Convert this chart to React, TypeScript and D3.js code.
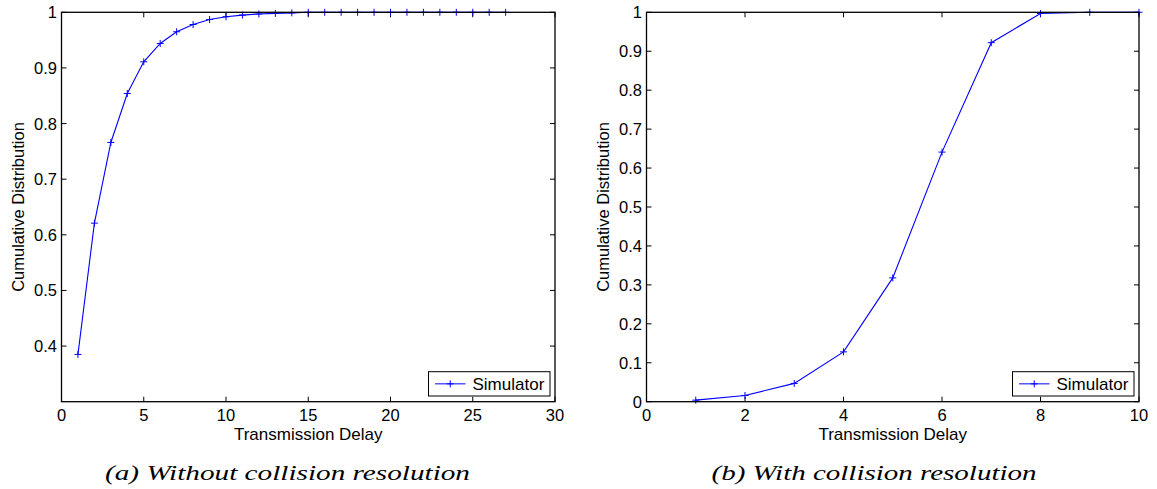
import React from "react";
import * as d3 from "d3";

// ---- Data ----
const leftDelays = [1,2,3,4,5,6,7,8,9,10,11,12,13,14,15,16,17,18,19,20,21,22,23,24,25,26,27];
const leftCdf = [0.385,0.621,0.766,0.854,0.911,0.944,0.965,0.978,0.987,0.992,0.995,0.997,0.998,0.999,1,1,1,1,1,1,1,1,1,1,1,1,1];
const rightDelays = [1,2,3,4,5,6,7,8,9,10];
const rightCdf = [0.004,0.016,0.047,0.128,0.318,0.641,0.922,0.997,1,1];

const leftXTicks = [0,5,10,15,20,25,30];
const leftYTicks = [0.4,0.5,0.6,0.7,0.8,0.9,1];
const rightXTicks = [0,2,4,6,8,10];
const rightYTicks = [0,0.1,0.2,0.3,0.4,0.5,0.6,0.7,0.8,0.9,1];

const seriesName = "Simulator";
const xLabel = "Transmission Delay";
const yLabel = "Cumulative Distribution";
const captionA = "(a) Without collision resolution";
const captionB = "(b) With collision resolution";

const SANS = "'Liberation Sans', Arial, Helvetica, sans-serif";
const SERIF = "'Liberation Serif', 'Times New Roman', serif";
const BLUE = "#0000ff";

type PanelProps = {
  x0: number; x1: number; y0: number; y1: number;
  xDomain: [number, number]; yDomain: [number, number];
  xTicks: number[]; yTicks: number[];
  xs: number[]; ys: number[];
  yLabelX: number;
  caption: string; captionX: number; captionLen: number;
};

function fmt(v: number) {
  return String(+v.toFixed(2));
}

function Panel(p: PanelProps) {
  const x = d3.scaleLinear().domain(p.xDomain).range([p.x0, p.x1]);
  const y = d3.scaleLinear().domain(p.yDomain).range([p.y1, p.y0]);
  const pts = p.xs.map((v, i) => [v, p.ys[i]] as [number, number]);
  const line = d3.line<[number, number]>().x(d => x(d[0])).y(d => y(d[1]))(pts) || "";
  const tl = 5;
  const m = 3.5;
  const legW = 121.5, legH = 24.3;
  const legX = p.x1 - 5 - legW, legY = p.y1 - 5.7 - legH;
  const cy = (p.y0 + p.y1) / 2;
  const cx = (p.x0 + p.x1) / 2;
  return (
    <g>
      {/* ticks */}
      {p.xTicks.map(t => (
        <g key={"xt" + t}>
          <line x1={x(t)} x2={x(t)} y1={p.y1} y2={p.y1 - tl} stroke="#000" strokeWidth={1} />
          <line x1={x(t)} x2={x(t)} y1={p.y0} y2={p.y0 + tl} stroke="#000" strokeWidth={1} />
          <text x={x(t)} y={420.5} fontSize={16.5} fontFamily={SANS} textAnchor="middle" fill="#000">{fmt(t)}</text>
        </g>
      ))}
      {p.yTicks.map(t => (
        <g key={"yt" + t}>
          <line x1={p.x0} x2={p.x0 + tl} y1={y(t)} y2={y(t)} stroke="#000" strokeWidth={1} />
          <line x1={p.x1} x2={p.x1 - tl} y1={y(t)} y2={y(t)} stroke="#000" strokeWidth={1} />
          <text x={p.x0 - 4.5} y={y(t) + 6} fontSize={16.5} fontFamily={SANS} textAnchor="end" fill="#000">{fmt(t)}</text>
        </g>
      ))}
      {/* data */}
      <path d={line} fill="none" stroke={BLUE} strokeWidth={1.1} />
      {pts.map((d, i) => (
        <path key={"m" + i}
          d={`M${x(d[0]) - m},${y(d[1])}H${x(d[0]) + m}M${x(d[0])},${y(d[1]) - m}V${y(d[1]) + m}`}
          stroke={BLUE} strokeWidth={1} fill="none" />
      ))}
      {/* box */}
      <rect x={p.x0} y={p.y0} width={p.x1 - p.x0} height={p.y1 - p.y0} fill="none" stroke="#000" strokeWidth={1.3} />
      {/* legend */}
      <rect x={legX} y={legY} width={legW} height={legH} fill="#fff" stroke="#000" strokeWidth={1} />
      <line x1={legX + 6.5} x2={legX + 37} y1={legY + legH / 2} y2={legY + legH / 2} stroke={BLUE} strokeWidth={1} />
      <path d={`M${legX + 21.75 - m},${legY + legH / 2}H${legX + 21.75 + m}M${legX + 21.75},${legY + legH / 2 - m}V${legY + legH / 2 + m}`} stroke={BLUE} strokeWidth={1} />
      <text x={legX + 44} y={legY + legH / 2 + 6} fontSize={17} fontFamily={SANS} fill="#000">{seriesName}</text>
      {/* labels */}
      <text x={cx} y={439.5} fontSize={17} fontFamily={SANS} textAnchor="middle" fill="#000">{xLabel}</text>
      <text transform={`translate(${p.yLabelX},${cy}) rotate(-90)`} fontSize={16.5} fontFamily={SANS} textAnchor="middle" dy="0.35em" fill="#000">{yLabel}</text>
      <text x={p.captionX} y={480} fontSize={22} fontFamily={SERIF} fontStyle="italic" textAnchor="middle"
        textLength={p.captionLen} lengthAdjust="spacingAndGlyphs" fill="#000">{p.caption}</text>
    </g>
  );
}

export default function App() {
  return (
    <svg width={1157} height={489} style={{ position: "absolute", left: 0, top: 0, background: "#fff" }}>
      <rect width={1157} height={489} fill="#fff" />
      <Panel x0={61.5} x1={555} y0={12.3} y1={401.7} xDomain={[0, 30]} yDomain={[0.3, 1]}
        xTicks={leftXTicks} yTicks={leftYTicks} xs={leftDelays} ys={leftCdf}
        yLabelX={18.5} caption={captionA} captionX={287.5} captionLen={365} />
      <Panel x0={646.5} x1={1139} y0={12.3} y1={401.7} xDomain={[0, 10]} yDomain={[0, 1]}
        xTicks={rightXTicks} yTicks={rightYTicks} xs={rightDelays} ys={rightCdf}
        yLabelX={603.5} caption={captionB} captionX={874} captionLen={325} />
    </svg>
  );
}
